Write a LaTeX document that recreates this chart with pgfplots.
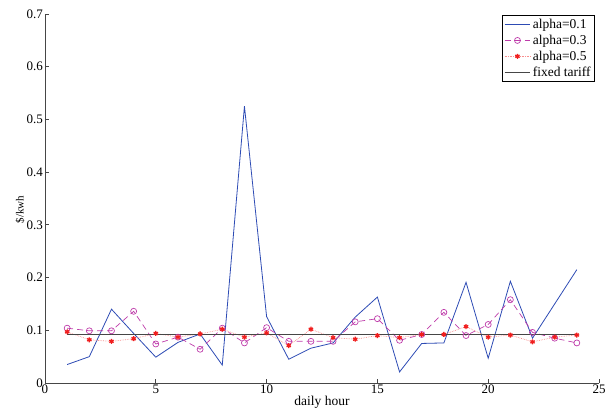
\documentclass[border=0pt]{standalone}
\usepackage{pgfplots}
\pgfplotsset{compat=1.18}
\usepackage{fontspec}
\setmainfont{Liberation Serif}
\definecolor{cblue}{RGB}{45,75,180}
\definecolor{cmag}{RGB}{190,60,170}
\definecolor{cred}{RGB}{240,30,30}
\definecolor{cgray}{RGB}{70,70,70}
\begin{document}
\begin{tikzpicture}
\useasboundingbox (-45pt,-28pt) rectangle (566pt,383pt);
\begin{axis}[
  at={(0,0)}, anchor=south west,
  scale only axis,
  width=554pt, height=369pt,
  xmin=0, xmax=25, ymin=0, ymax=0.7,
  axis lines*=left,
  axis line style={cgray, line width=0.8pt},
  tick style={cgray, line width=0.8pt},
  tick align=inside,
  major tick length=4pt,
  xtick={0,5,10,15,20,25},
  ytick={0,0.1,0.2,0.3,0.4,0.5,0.6,0.7},
  yticklabel style={/pgf/number format/fixed, /pgf/number format/precision=1},
  /pgf/number format/assume math mode=true,
  tick label style={font=\fontsize{13}{14}\selectfont},
  xticklabel style={yshift=1.5pt},
  yticklabel style={xshift=1.5pt},
  xlabel={daily hour}, ylabel={\$/kwh},
  xlabel style={font=\fontsize{13.5}{14}\selectfont, at={(axis description cs:0.5,0)}, anchor=center, yshift=-19pt},
  ylabel style={font=\fontsize{11}{12}\selectfont, at={(axis description cs:-0.045,0.47)}, anchor=center, rotate=0},
  legend style={at={(0.993,0.998)}, anchor=north east, font=\fontsize{13.5}{14}\selectfont,
    draw=black, line width=0.8pt, inner sep=2pt, row sep=1pt, cells={anchor=west},
    legend image code/.code={\draw[mark repeat=2,mark phase=2] plot coordinates {(0cm,0cm) (0.45cm,0cm) (0.9cm,0cm)};}},
  legend cell align=left,
]
\addplot[cblue, line width=0.8pt] coordinates {
(1,0.035)(2,0.050)(3,0.140)(4,0.094)(5,0.049)(6,0.077)(7,0.093)(8,0.034)
(9,0.525)(10,0.126)(11,0.045)(12,0.066)(13,0.076)(14,0.125)(15,0.163)(16,0.021)
(17,0.075)(18,0.076)(19,0.191)(20,0.047)(21,0.193)(22,0.085)(23,0.150)(24,0.215)};
\addlegendentry{alpha=0.1}
\addplot[cmag, line width=0.7pt, dash pattern=on 6pt off 4pt, mark=o, mark size=3pt, mark options={solid}] coordinates {
(1,0.104)(2,0.099)(3,0.099)(4,0.136)(5,0.074)(6,0.087)(7,0.064)(8,0.104)
(9,0.076)(10,0.105)(11,0.079)(12,0.079)(13,0.079)(14,0.116)(15,0.122)(16,0.081)
(17,0.092)(18,0.134)(19,0.090)(20,0.111)(21,0.158)(22,0.096)(23,0.085)(24,0.076)};
\addlegendentry{alpha=0.3}
\addplot[cred!50, line width=0.7pt, densely dotted, mark=asterisk, mark size=2.5pt, mark options={solid, cred, line width=1.3pt}] coordinates {
(1,0.097)(2,0.082)(3,0.079)(4,0.084)(5,0.094)(6,0.087)(7,0.093)(8,0.102)
(9,0.087)(10,0.095)(11,0.071)(12,0.102)(13,0.086)(14,0.083)(15,0.090)(16,0.086)
(17,0.092)(18,0.092)(19,0.107)(20,0.087)(21,0.091)(22,0.078)(23,0.087)(24,0.091)};
\addlegendentry{alpha=0.5}
\addplot[cgray, line width=1.2pt] coordinates {(1,0.092)(24,0.092)};
\addlegendentry{fixed tariff}
\end{axis}
\end{tikzpicture}
\end{document}
